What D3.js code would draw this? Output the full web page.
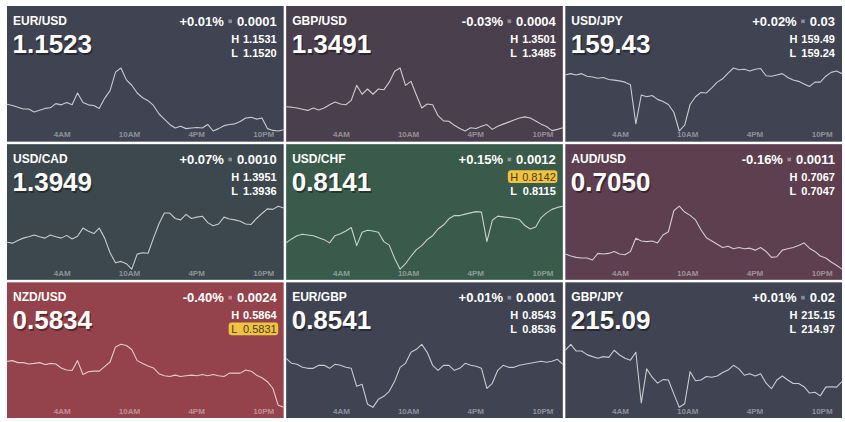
<!DOCTYPE html>
<html><head><meta charset="utf-8">
<script src="https://cdn.jsdelivr.net/npm/d3@7"></script>
<style>html,body{margin:0;padding:0;background:#fff;overflow:hidden}svg{display:block;font-family:"Liberation Sans",Arial,sans-serif;}</style>
</head><body><svg id="c" width="845" height="422"></svg>
<script>
const pairs = ["EUR/USD","GBP/USD","USD/JPY","USD/CAD","USD/CHF","AUD/USD","NZD/USD","EUR/GBP","GBP/JPY"];
const lastPrices = ["1.1523","1.3491","159.43","1.3949","0.8141","0.7050","0.5834","0.8541","215.09"];
const changePct = ["+0.01%","-0.03%","+0.02%","+0.07%","+0.15%","-0.16%","-0.40%","+0.01%","+0.01%"];
const changeAbs = ["0.0001","0.0004","0.03","0.0010","0.0012","0.0011","0.0024","0.0001","0.02"];
const highs = ["1.1531","1.3501","159.49","1.3951","0.8142","0.7067","0.5864","0.8543","215.15"];
const lows = ["1.1520","1.3485","159.24","1.3936","0.8115","0.7047","0.5831","0.8536","214.97"];
const highlightHigh = [false,false,false,false,true,false,false,false,false];
const highlightLow = [false,false,false,false,false,false,true,false,false];
const panelColors = ["#3f4352","#4a3f4d","#3f4352","#3d474e","#3a5a4b","#5e3f4f","#94434c","#3f4352","#404352"];
const tickHours = [4,10,16,22];
const sessionStart = new Date(2024,0,1,23,7);
const sessionEnd = new Date(2024,0,2,23,49);

const eurusd = [1.15247,1.15245,1.15242,1.15239,1.15239,1.15234,1.15237,1.15240,1.15241,1.15248,1.15246,1.15250,1.15246,1.15266,1.15250,1.15246,1.15245,1.15240,1.15257,1.15270,1.15301,1.15308,1.15288,1.15279,1.15266,1.15258,1.15253,1.15245,1.15231,1.15222,1.15213,1.15207,1.15210,1.15206,1.15207,1.15208,1.15207,1.15213,1.15202,1.15206,1.15211,1.15213,1.15214,1.15218,1.15224,1.15225,1.15222,1.15224,1.15206,1.15203,1.15202,1.15204];
const gbpusd = [1.34912,1.34911,1.34909,1.34906,1.34903,1.34909,1.34904,1.34909,1.34917,1.34924,1.34919,1.34917,1.34928,1.34965,1.34943,1.34956,1.34943,1.34956,1.34954,1.34973,1.35000,1.35008,1.34965,1.34975,1.34941,1.34909,1.34919,1.34917,1.34890,1.34877,1.34876,1.34866,1.34858,1.34852,1.34860,1.34858,1.34864,1.34868,1.34856,1.34864,1.34869,1.34874,1.34879,1.34884,1.34887,1.34884,1.34877,1.34869,1.34863,1.34853,1.34856,1.34860];
const usdjpy = [159.460,159.465,159.460,159.465,159.455,159.452,159.447,159.450,159.442,159.440,159.437,159.432,159.422,159.270,159.382,159.375,159.380,159.365,159.357,159.345,159.315,159.242,159.265,159.345,159.375,159.392,159.390,159.410,159.432,159.445,159.467,159.487,159.480,159.482,159.475,159.482,159.485,159.457,159.455,159.460,159.465,159.450,159.440,159.435,159.425,159.415,159.432,159.432,159.455,159.470,159.475,159.465];
const usdcad = [1.39428,1.39426,1.39432,1.39437,1.39440,1.39444,1.39440,1.39437,1.39444,1.39440,1.39437,1.39443,1.39435,1.39441,1.39459,1.39452,1.39447,1.39459,1.39437,1.39405,1.39383,1.39386,1.39381,1.39369,1.39402,1.39405,1.39404,1.39437,1.39468,1.39492,1.39492,1.39480,1.39477,1.39489,1.39480,1.39483,1.39485,1.39471,1.39464,1.39468,1.39483,1.39479,1.39477,1.39474,1.39468,1.39467,1.39480,1.39491,1.39501,1.39500,1.39507,1.39503];
const usdchf = [0.81272,0.81288,0.81301,0.81307,0.81304,0.81301,0.81293,0.81285,0.81272,0.81301,0.81309,0.81320,0.81334,0.81261,0.81315,0.81323,0.81320,0.81315,0.81277,0.81263,0.81209,0.81166,0.81188,0.81218,0.81245,0.81261,0.81285,0.81301,0.81328,0.81344,0.81369,0.81382,0.81382,0.81388,0.81393,0.81398,0.81396,0.81277,0.81363,0.81380,0.81377,0.81374,0.81371,0.81366,0.81342,0.81328,0.81336,0.81374,0.81393,0.81407,0.81415,0.81420];
const audusd = [0.70520,0.70514,0.70510,0.70508,0.70508,0.70502,0.70522,0.70520,0.70522,0.70528,0.70520,0.70518,0.70528,0.70568,0.70560,0.70558,0.70560,0.70554,0.70578,0.70588,0.70652,0.70666,0.70648,0.70638,0.70624,0.70594,0.70570,0.70560,0.70550,0.70540,0.70544,0.70536,0.70540,0.70536,0.70538,0.70532,0.70540,0.70528,0.70510,0.70512,0.70532,0.70536,0.70540,0.70546,0.70554,0.70538,0.70528,0.70514,0.70508,0.70496,0.70486,0.70474];
const nzdusd = [0.58544,0.58548,0.58538,0.58538,0.58531,0.58534,0.58538,0.58528,0.58534,0.58531,0.58511,0.58501,0.58498,0.58548,0.58478,0.58492,0.58495,0.58495,0.58518,0.58541,0.58617,0.58630,0.58624,0.58604,0.58548,0.58534,0.58521,0.58511,0.58482,0.58472,0.58468,0.58475,0.58468,0.58472,0.58475,0.58472,0.58478,0.58472,0.58478,0.58472,0.58468,0.58485,0.58485,0.58485,0.58501,0.58495,0.58475,0.58462,0.58442,0.58409,0.58323,0.58313];
const eurgbp = [0.85413,0.85408,0.85407,0.85404,0.85403,0.85403,0.85406,0.85406,0.85403,0.85407,0.85406,0.85404,0.85403,0.85385,0.85387,0.85367,0.85364,0.85372,0.85375,0.85380,0.85390,0.85404,0.85408,0.85419,0.85422,0.85427,0.85419,0.85406,0.85401,0.85406,0.85406,0.85401,0.85403,0.85408,0.85406,0.85405,0.85403,0.85383,0.85388,0.85401,0.85406,0.85404,0.85404,0.85406,0.85407,0.85408,0.85409,0.85410,0.85409,0.85410,0.85412,0.85407];
const gbpjpy = [215.130,215.145,215.128,215.128,215.119,215.114,215.110,215.114,215.112,215.130,215.118,215.110,215.105,215.125,214.997,215.083,215.062,215.047,215.056,215.055,215.020,214.986,214.995,215.076,215.053,215.055,215.064,215.062,215.065,215.074,215.080,215.092,215.083,215.067,215.071,215.065,215.071,215.047,215.033,215.055,215.065,215.055,215.046,215.046,215.038,215.022,215.024,215.015,215.037,215.038,215.037,215.051];

const seriesList = [eurusd,gbpusd,usdjpy,usdcad,usdchf,audusd,nzdusd,eurgbp,gbpjpy];

const svg = d3.select("#c");
const gridLeft = 7, gridTop = 6, gap = 2.5;
const pw = (842 - gridLeft - 2*gap)/3, ph = (418 - gridTop - 2*gap)/3;

const x = d3.scaleTime().domain([sessionStart, sessionEnd]).range([0, pw]);
const tickDates = tickHours.map(h => new Date(2024,0,2,h,0));
const xAxis = d3.axisBottom(x).tickValues(tickDates).tickFormat(d3.timeFormat("%-I%p")).tickSize(0).tickPadding(0);

pairs.forEach((p, i) => {
  const col = i % 3, row = Math.floor(i / 3);
  const g = svg.append("g").attr("transform", `translate(${gridLeft + col*(pw+gap)},${gridTop + row*(ph+gap)})`);
  g.append("rect").attr("width", pw).attr("height", ph).attr("fill", panelColors[i]);
  g.append("clipPath").attr("id", "cp"+i).append("rect").attr("width", pw).attr("height", ph);

  const vals = seriesList[i];
  const step = (sessionEnd - sessionStart) / (vals.length - 1);
  const pts = vals.map((v, k) => ({t: new Date(+sessionStart + k*step), v}));
  const y = d3.scaleLinear().domain(d3.extent(vals)).range([125, 62]);
  const line = d3.line().x(d => x(d.t)).y(d => y(d.v));

  const ax = g.append("g").attr("transform", `translate(0,${ph-10})`).call(xAxis);
  ax.select(".domain").remove();
  ax.selectAll("text").attr("fill", "rgba(255,255,255,0.42)").attr("font-size", 8).attr("font-weight", "bold")
    .attr("font-family", '"Liberation Sans",Arial,sans-serif').attr("dy", "0.71em");

  g.append("path").datum(pts).attr("d", line).attr("fill", "none")
    .attr("stroke", "rgba(255,255,255,0.72)").attr("stroke-width", 1.1).attr("stroke-linejoin", "round")
    .attr("clip-path", `url(#cp${i})`);

  g.append("text").attr("x", 6).attr("y", 19).attr("fill", "#fff").attr("font-size", 12).attr("font-weight", "bold").text(p);

  g.append("text").attr("x", 6.8).attr("y", 48.5).attr("fill", "rgba(0,0,0,0.4)").attr("font-size", 26).attr("font-weight", "bold").text(lastPrices[i]);
  g.append("text").attr("x", 5.5).attr("y", 47).attr("fill", "#fff").attr("font-size", 26).attr("font-weight", "bold").text(lastPrices[i]);

  const rightX = pw - 7;
  const absT = g.append("text").attr("x", rightX).attr("y", 19.5).attr("text-anchor", "end").attr("fill", "#fff")
    .attr("font-size", 13).attr("font-weight", "bold").text(changeAbs[i]);
  const wAbs = absT.node().getComputedTextLength();
  const sqX = rightX - wAbs - 8.5;
  g.append("rect").attr("x", sqX).attr("y", 13.5).attr("width", 3.6).attr("height", 3.6).attr("fill", "rgba(255,255,255,0.4)");
  g.append("text").attr("x", sqX - 4.5).attr("y", 19.5).attr("text-anchor", "end").attr("fill", "#fff")
    .attr("font-size", 13).attr("font-weight", "bold").text(changePct[i]);

  const hl = [["H", highs[i], 37, highlightHigh[i]], ["L", lows[i], 51, highlightLow[i]]];
  hl.forEach(([lab, val, by, hi]) => {
    if (hi) {
      g.append("rect").attr("x", pw - 55).attr("y", by - 10.8).attr("width", 49.5).attr("height", 12.6).attr("rx", 3)
        .attr("fill", "#f0c341");
    }
    const c = hi ? "#4a3d1a" : "#fff";
    g.append("text").attr("x", pw - 52.5).attr("y", by).attr("fill", c).attr("font-size", 11).attr("font-weight", hi ? "normal" : "bold").text(lab);
    g.append("text").attr("x", rightX).attr("y", by).attr("text-anchor", "end").attr("fill", c)
      .attr("font-size", 11).attr("font-weight", hi ? "normal" : "bold").text(val);
  });
});
</script></body></html>
